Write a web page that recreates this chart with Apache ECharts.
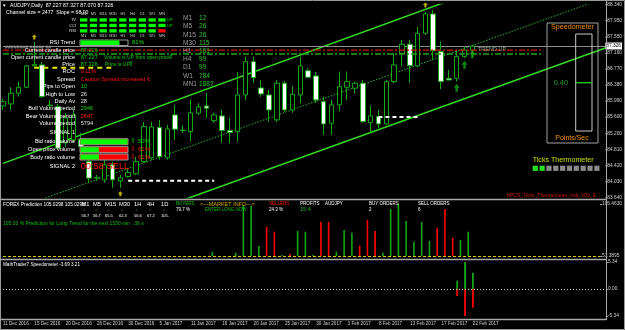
<!DOCTYPE html>
<html><head><meta charset="utf-8">
<script src="https://cdn.jsdelivr.net/npm/echarts@6/dist/echarts.min.js"></script>
<style>html,body{margin:0;padding:0;background:#000;}#c{width:625px;height:330px;}</style>
</head><body><div id="c"></div>
<script>
// ---------- DATA ----------
const dates = ['11 Dec 2016','12 Dec 2016','13 Dec 2016','14 Dec 2016','15 Dec 2016','16 Dec 2016','18 Dec 2016','19 Dec 2016','20 Dec 2016','21 Dec 2016',
'22 Dec 2016','23 Dec 2016','26 Dec 2016','27 Dec 2016','28 Dec 2016','29 Dec 2016','30 Dec 2016','2 Jan 2017','3 Jan 2017','4 Jan 2017',
'5 Jan 2017','6 Jan 2017','9 Jan 2017','10 Jan 2017','11 Jan 2017','12 Jan 2017','13 Jan 2017','15 Jan 2017','16 Jan 2017','17 Jan 2017',
'18 Jan 2017','19 Jan 2017','20 Jan 2017','22 Jan 2017','23 Jan 2017','24 Jan 2017','25 Jan 2017','26 Jan 2017','27 Jan 2017','29 Jan 2017',
'30 Jan 2017','31 Jan 2017','1 Feb 2017','2 Feb 2017','3 Feb 2017','5 Feb 2017','6 Feb 2017','7 Feb 2017','8 Feb 2017','9 Feb 2017',
'10 Feb 2017','12 Feb 2017','13 Feb 2017','14 Feb 2017','15 Feb 2017','16 Feb 2017','17 Feb 2017','19 Feb 2017','20 Feb 2017','21 Feb 2017',
'22 Feb 2017'];
const emptySlots = ['','','','','','','','','','','','','','','','',''];
const opens = [85.870,85.919,86.179,86.325,86.844,86.868,85.890,85.853,84.970,85.043,
85.060,84.515,84.125,84.070,84.435,84.046,84.150,84.216,84.515,84.605,
85.342,84.605,85.652,85.280,85.245,85.693,85.870,85.513,85.627,85.269,
85.245,86.138,86.948,86.308,86.138,85.530,86.423,85.773,86.138,86.729,
86.600,85.975,85.449,85.895,86.325,86.301,86.423,85.464,85.610,85.432,
86.462,87.153,87.372,86.844,87.639,88.109,87.192,86.540,86.544,87.070,87.227];
const closes = [85.975,86.179,86.325,86.844,86.880,86.097,85.878,84.841,85.578,85.652,
84.880,84.112,84.115,84.435,84.070,84.119,84.247,84.515,85.367,85.359,
84.637,85.311,85.303,85.269,85.700,85.846,85.814,85.652,85.269,85.221,
86.138,86.948,86.559,86.162,85.773,86.423,85.773,86.155,86.844,86.569,
86.016,85.432,85.895,86.340,86.462,86.423,85.488,85.627,85.432,86.462,
86.868,87.372,86.851,87.639,88.109,87.216,86.462,86.503,87.070,87.233,87.326];
const lows = [85.773,85.773,86.097,86.301,86.800,86.065,85.822,84.800,84.873,84.970,
84.678,83.997,84.046,83.997,83.875,83.875,84.119,84.191,84.484,84.556,
84.556,84.556,85.043,85.213,85.002,85.652,85.578,85.457,84.977,84.963,
85.002,86.016,86.430,86.089,85.481,85.481,85.724,85.700,85.936,86.551,
85.943,85.165,85.165,85.732,86.016,86.179,85.457,85.213,85.335,85.408,
86.423,86.827,86.430,86.819,87.598,86.990,86.277,86.490,86.462,87.040,87.070];
const highs = [86.041,86.325,86.462,86.868,87.430,86.941,86.016,85.919,85.700,85.773,
85.213,84.605,84.191,84.556,84.508,84.191,84.362,84.630,85.481,85.481,
85.530,85.408,85.895,85.408,86.016,85.936,86.185,85.700,85.773,85.578,
86.698,87.070,87.070,86.503,86.260,86.503,86.479,86.357,87.070,86.788,
86.698,86.097,86.016,86.705,86.705,86.462,86.503,85.870,85.773,86.503,
87.153,87.476,87.476,87.800,88.157,88.206,87.435,86.746,87.233,87.313,87.327];
const priceTicks = [83.640,84.030,84.420,84.810,85.200,85.600,85.990,86.380,86.770,87.160,87.550,87.950,88.340];
const bidPrice = 87.326;
const openLevel = 87.227;
const greenLevel = 87.135;
const channelX = [0, 77];
const channelUpper = [84.47, 89.82];
const channelMid = [83.26, 88.50];
const channelLower = [82.00, 87.28];
const yellowLevel = {from: 4, to: 14, price: 86.802};
const whiteLevel1 = {from: 16, to: 27, price: 84.046};
const whiteLevel2 = {from: 48, to: 53, price: 85.603};
const fractalX = [4, 15, 54];
const fractalY = [87.55, 83.73, 88.33];
const arrowX = [58, 59, 60];
const arrowY = [86.31, 86.87, 87.13];
// FOREX Prediction histogram (index 0..60), null = no bar
const predUp = [null,null,null,null,null,null,null,null,null,null,
null,null,null,null,null,null,null,null,null,null,
null,null,null,null,null,null,null,55.86,null,null,
54.82,104.42,103.70,61.79,null,null,52.4,null,77.39,76.66,
52.4,null,null,55.86,78.43,75.62,null,null,null,54.82,
100.26,105.46,87.79,66.26,86.75,67.30,null,null,null,68.03,76.66];
const predDown = [null,null,null,null,null,null,null,null,null,null,
null,null,null,null,null,null,null,null,null,null,
null,null,null,null,null,null,null,null,null,null,
null,null,null,null,81.86,76.66,null,53.5,null,null,
null,87.06,86.75,null,null,null,62.10,88.83,77.39,null,
null,null,null,null,null,null,80.82,100.26,70.42,null,null];
const predTicks = [51.3895, 105.4630];
// MathTrader7 Speedometer (last three bars)
const speedX = [58, 59, 60];
const speedUp = [1.64, 5.34, 3.21];
const speedDown = [-1.38, -5.34, -3.69];
const speedTicks = [-5.34, 0, 5.34];
// info panels
const mtfHeaders = ['M1','M5','M15','M30','H1','H4','D1','W1','MN'];
const mtfRows = ['TV','CCI','RSI'];
const mtfState = [[1,1,1,1,1,1,1,1,1],[1,1,1,1,1,1,1,1,1],[1,1,1,1,1,1,1,1,0]];
const rsiTrend = 81;
const tfLabels = ['M1','M5','M15','M30','H1','H4','D1','W1','MN1'];
const tfValues = ['12','26','26','115','161','99','99','784','1887'];
const panelLabels = ['Current candle price','Open current candle price','Price','ROC','Spread','Pips to Open','High to Low','Daily Av','Bull Volume period','Bear Volume period','Volume period','SIGNAL 1','Bid ratio volume','Open price volume','Body ratio volume','SIGNAL 2'];
const panelValues = ['87.229','87.227','87.326','0.11%','Caution Spread increased 6','10','26','28','2946','2847','5794','','','','',''];
const panelValueColors = ['#10d010','#10d010','#10d010','#ff1010','#ff1010','#10d010','#e0e0e0','#e0e0e0','#10d010','#ff1010','#e0e0e0','','','','',''];
const ratioBars = [100, 39, 39];
const ratioText = ['50%','61%','61%'];
const predTf = ['M1','M5','M15','M30','1H','4H','1D'];
const predTfVals = ['56.7','56.7','65.5','62.3','56.6','67.2','105.'];
const thermoCells = [1,1,0,0,0,0,0,0,0,0];

// ---------- CHART ----------
const categories = dates.concat(emptySlots);
const FONT = '"Liberation Sans", Arial, sans-serif';
const candleData = opens.map((o, i) => [o, closes[i], lows[i], highs[i]]);
function seg(x, y) { return [[x[0], y[0]], [x[1], y[1]]]; }
function T(x, y, text, fill, size, align, extra) {
  return Object.assign({type: 'text', x: x, y: y, z: 100, silent: true,
    style: {text: text, fill: fill, font: size + 'px ' + FONT, textAlign: align || 'left', align: align || 'left',
      textVerticalAlign: 'middle', verticalAlign: 'middle'}}, extra || {});
}
function R(x, y, w, h, fill, stroke, z) {
  return {type: 'rect', z: z || 99, silent: true, shape: {x: x, y: y, width: w, height: h},
    style: {fill: fill || 'none', stroke: stroke || 'none', lineWidth: 1}};
}
function L(x1, y1, x2, y2, stroke, w, dash) {
  return {type: 'line', z: 99, silent: true, shape: {x1: x1, y1: y1, x2: x2, y2: y2},
    style: {stroke: stroke, lineWidth: w || 1, lineDash: dash || null}};
}

const g = [];
// frame & separators
g.push(R(0.5, 0.5, 624, 329, 'none', '#9a9a9a'));
g.push(L(0, 199.5, 606, 199.5, '#a8a8a8', 1.5));
g.push(L(0, 259.5, 606, 259.5, '#a8a8a8', 1.5));
g.push(L(0, 319.5, 606, 319.5, '#a8a8a8', 1.5));
g.push(L(606.5, 0, 606.5, 320, '#a8a8a8', 1));
// header
g.push(T(2, 5.5, '▼', '#ffffff', 4.5));
g.push(T(10, 5.5, 'AUDJPY,Daily  87.227 87.327 87.070 87.326', '#ffffff', 5.2));
g.push(T(6, 12.5, 'Channel size = 2477  Slope = 68.00', '#ffffff', 5.2));
// MTF table
const cellX0 = 80, cellStep = 9.79, cellW = 7.3;
mtfHeaders.forEach((h, k) => {
  g.push(T(cellX0 + cellW / 2 + k * cellStep, 14, h, '#d0d0d0', 3.8, 'center'));
  g.push(T(cellX0 + cellW / 2 + k * cellStep, 36, h, '#d0d0d0', 3.8, 'center'));
});
const rowY = [18.3, 23.8, 29.2];
mtfRows.forEach((r, j) => {
  g.push(T(76, rowY[j] + 1.6, r, '#e0e0e0', 4, 'right'));
  mtfState[j].forEach((s, k) => g.push(R(cellX0 + k * cellStep, rowY[j], cellW, 3.3, s ? '#00ff00' : '#ff0000')));
  if (j < 2) g.push(T(167, rowY[j] + 1.6, 'UP', '#00e000', 4));
});
// RSI trend
g.push(T(75, 42.5, 'RSI Trend', '#ffffff', 5.6, 'right'));
g.push(R(80, 40, 48, 5.5, '#000', '#9a9a9a'));
g.push(R(80.5, 40.5, 48 * rsiTrend / 100, 4.5, '#00ff00'));
g.push(T(132, 42.8, rsiTrend + '%', '#10e010', 6));
// timeframe counts
tfLabels.forEach((l, k) => {
  const y = 18.3 + k * 8.2;
  g.push(T(183, y, l, '#9a9a9a', 6.6));
  g.push(T(199, y, tfValues[k], '#2cc02c', 6.6));
});
// left panel
const panelY = [50, 57.3, 64.3, 71.7, 79.3, 86.7, 94, 101.3, 108.7, 116, 123.3, 132.5, 141.7, 149.7, 157, 166.7];
g.push(T(5, 47.5, '######## ##### ##', '#9a9a9a', 5.2));
panelLabels.forEach((l, k) => {
  g.push(T(75, panelY[k], l, '#ffffff', 5.6, 'right'));
  if (panelValues[k]) g.push(T(80.7, panelY[k], panelValues[k], panelValueColors[k], 5.6));
});
g.push(T(104, 57.3, 'Volume is UP from open price', '#10d010', 5));
g.push(T(171, 57.3, '⇧', '#10e010', 6.5, 'center'));
g.push(T(105, 64.3, 'Price is UP', '#10d010', 5));
g.push(T(131, 64.3, '⇧', '#10e010', 6.5, 'center'));
ratioBars.forEach((v, k) => {
  const y = panelY[12 + k] - 3;
  g.push(R(80, y, 48, 6, '#ff0000', '#9a9a9a'));
  g.push(R(80.5, y + 0.5, 47 * v / 100, 5, '#00ff00'));
  const up = k === 0;
  g.push(T(133, panelY[12 + k], up ? '⇧' : '⇩', up ? '#10d010' : '#ff1010', 6.5, 'center'));
  g.push(T(138, panelY[12 + k], ratioText[k], up ? '#10d010' : '#ff1010', 6));
});
g.push(T(80.7, 166.7, '00:58 SELL', '#ff1010', 9.3));
g.push(T(478, 49, 'TREND UP', '#8aa88a', 5.5));
// speedometer
g.push(R(547, 23, 51, 120, 'none', '#a0a0a0'));
g.push(T(572.5, 27.5, 'Speedometer', '#f09000', 7.2, 'center'));
g.push(R(575.7, 34, 16.3, 97, 'none', '#c8c8c8'));
g.push(L(576, 82.7, 592, 82.7, '#20c020', 1.5));
g.push(T(553.7, 83, '0.40', '#20a020', 7.4));
g.push(T(572, 138, 'Points/Sec', '#f09000', 7, 'center'));
g.push(T(532.7, 160, 'Ticks Thermometer', '#c8e000', 7.1));
thermoCells.forEach((c, k) => g.push(R(532.7 + k * 6.84, 165.7, 5.2, 5.2, c ? '#20e020' : '#8a8a8a')));
g.push(T(596, 196, 'HPCS_Ticks_Thermometer_Indi_V03_E', '#d01010', 5, 'right'));
// FOREX prediction pane texts
g.push(T(3, 205, 'FOREX Prediction 105.0298 105.0298', '#ffffff', 4.8));
const ptX = [81.5, 93, 105, 119, 134, 147, 161];
predTf.forEach((l, k) => {
  g.push(T(ptX[k], 204.5, l, '#ffffff', 5.8));
  g.push(T(ptX[k] + 2, 210.7, '^', '#10c010', 4));
  g.push(T(ptX[k], 215.5, predTfVals[k], '#ffffff', 4));
});
g.push(T(176, 204, 'BUYERS', '#10c010', 4.5));
g.push(T(176, 209.5, '79.7 %', '#ffffff', 4.5));
g.push(T(200, 204, '<---MARKET INFO--->', '#d8a800', 5.5));
g.push(T(205, 209.5, 'ENTER LONG NOW', '#10c010', 4.5));
g.push(T(269, 204, 'SELLERS', '#ff1010', 4.5));
g.push(T(269, 209.5, '24.3 %', '#ffffff', 4.5));
g.push(T(300, 204, 'PROFITS', '#ffffff', 4.5));
g.push(T(300, 209.5, '15.4', '#10c010', 5.5));
g.push(T(325, 204, 'AUDJPY', '#ffffff', 4.5));
g.push(T(369, 204, 'BUY ORDERS', '#ffffff', 4.5));
g.push(T(369, 209.5, '2', '#ffffff', 4.5));
g.push(T(418, 204, 'SELL ORDERS', '#ffffff', 4.5));
g.push(T(418, 209.5, '6', '#ffffff', 4.5));
g.push(T(3, 223.3, '105.03 % Prediction for Long Trend for the next 1330 min : 36 s', '#10c010', 5));
g.push(T(3, 264.5, 'MathTrader7 Speedometer -3.69 3.21', '#ffffff', 4.6));

const xBase = {type: 'category', data: categories, boundaryGap: false,
  axisLine: {show: false}, axisTick: {show: false}, axisLabel: {show: false}, splitLine: {show: false}};
const yBase = {type: 'value', position: 'right', splitLine: {show: false}, axisLine: {show: false}};
const axisLabelStyle = {color: '#d0d0d0', fontSize: 4.8, fontFamily: FONT, margin: 2};

const option = {
  backgroundColor: '#000',
  animation: false,
  grid: [
    {left: 3, right: 19, top: 4.5, height: 193},
    {left: 3, right: 19, top: 204, height: 52},
    {left: 3, right: 19, top: 262, height: 54}
  ],
  xAxis: [
    Object.assign({}, xBase, {gridIndex: 0}),
    Object.assign({}, xBase, {gridIndex: 1}),
    Object.assign({}, xBase, {gridIndex: 2, axisLabel: {show: true, interval: 3, align: 'left', color: '#d0d0d0', fontSize: 4.6, fontFamily: FONT, margin: 5}})
  ],
  yAxis: [
    Object.assign({}, yBase, {gridIndex: 0, min: 83.64, max: 88.34,
      axisTick: {show: true, length: 2, customValues: priceTicks, lineStyle: {color: '#a0a0a0'}},
      axisLabel: Object.assign({customValues: priceTicks, formatter: v => v.toFixed(3)}, axisLabelStyle)}),
    Object.assign({}, yBase, {gridIndex: 1, min: predTicks[0], max: predTicks[1],
      axisTick: {show: true, length: 2, customValues: predTicks, lineStyle: {color: '#a0a0a0'}},
      axisLabel: Object.assign({customValues: predTicks, formatter: v => v.toFixed(4)}, axisLabelStyle)}),
    Object.assign({}, yBase, {gridIndex: 2, min: speedTicks[0], max: speedTicks[2],
      axisTick: {show: true, length: 2, customValues: speedTicks, lineStyle: {color: '#a0a0a0'}},
      axisLabel: Object.assign({customValues: speedTicks, formatter: v => v.toFixed(2)}, axisLabelStyle)})
  ],
  series: [
    {type: 'candlestick', xAxisIndex: 0, yAxisIndex: 0, data: candleData, barWidth: 5, z: 5,
      itemStyle: {color: '#000000', color0: '#ffffff', borderColor: '#14a814', borderColor0: '#14a814', borderWidth: 1},
      markLine: {silent: true, symbol: 'none', animation: false,
        lineStyle: {color: '#8c8c8c', type: 'solid', width: 1},
        label: {show: true, position: 'end', distance: 0, formatter: bidPrice.toFixed(3), backgroundColor: '#ffffff', color: '#000000', fontSize: 4.8, fontFamily: FONT, padding: [1, 1]},
        data: [{yAxis: bidPrice}]}},
    {type: 'line', xAxisIndex: 0, yAxisIndex: 0, data: seg(channelX, channelUpper), symbol: 'none', z: 4,
      lineStyle: {color: '#33dd22', width: 1.5}},
    {type: 'line', xAxisIndex: 0, yAxisIndex: 0, data: seg(channelX, channelMid), symbol: 'none', z: 4,
      lineStyle: {color: '#22b822', width: 1, type: [1.5, 1.5]}},
    {type: 'line', xAxisIndex: 0, yAxisIndex: 0, data: seg(channelX, channelLower), symbol: 'none', z: 4,
      lineStyle: {color: '#33dd22', width: 1.5}},
    {type: 'line', xAxisIndex: 0, yAxisIndex: 0, data: [[0, openLevel], [69, openLevel]], symbol: 'none', z: 6,
      lineStyle: {color: '#cc1010', width: 1.3, type: [6, 2, 2, 2]}},
    {type: 'line', xAxisIndex: 0, yAxisIndex: 0, data: [[0, greenLevel], [69, greenLevel]], symbol: 'none', z: 6,
      lineStyle: {color: '#20a020', width: 1.3, type: [6, 2, 2, 2]}},
    {type: 'line', xAxisIndex: 0, yAxisIndex: 0, data: [[yellowLevel.from, yellowLevel.price], [yellowLevel.to, yellowLevel.price]], symbol: 'none', z: 6,
      lineStyle: {color: '#e8e800', width: 2, type: [5, 4]}},
    {type: 'line', xAxisIndex: 0, yAxisIndex: 0, data: [[whiteLevel1.from, whiteLevel1.price], [whiteLevel1.to, whiteLevel1.price]], symbol: 'none', z: 6,
      lineStyle: {color: '#ffffff', width: 2, type: [4, 3]}},
    {type: 'line', xAxisIndex: 0, yAxisIndex: 0, data: [[whiteLevel2.from, whiteLevel2.price], [whiteLevel2.to, whiteLevel2.price]], symbol: 'none', z: 6,
      lineStyle: {color: '#ffffff', width: 2, type: [4, 3]}},
    {type: 'scatter', xAxisIndex: 0, yAxisIndex: 0, data: fractalX.map((x, k) => [x, fractalY[k]]), z: 7,
      symbol: 'path://M5,0 L10,5 L7,5 L7,10 L3,10 L3,5 L0,5 Z', symbolSize: [5, 5], itemStyle: {color: '#f0e000'}},
    {type: 'scatter', xAxisIndex: 0, yAxisIndex: 0, data: arrowX.map((x, k) => [x, arrowY[k]]), z: 7,
      symbol: 'path://M5,0 L10,5 L7,5 L7,10 L3,10 L3,5 L0,5 Z', symbolSize: [6, 8], itemStyle: {color: '#14a814'}},
    {type: 'bar', xAxisIndex: 1, yAxisIndex: 1, data: predUp, barWidth: 1.6, barGap: '-100%', itemStyle: {color: '#12a812'},
      markLine: {silent: true, symbol: 'none', label: {show: false}, lineStyle: {color: '#d8c800', type: [3, 2], width: 1.2},
        data: [{yAxis: predTicks[0]}]}},
    {type: 'bar', xAxisIndex: 1, yAxisIndex: 1, data: predDown, barWidth: 1.6, barGap: '-100%', itemStyle: {color: '#ff0000'}},
    {type: 'bar', xAxisIndex: 2, yAxisIndex: 2, data: speedX.map((x, k) => [x, speedUp[k]]), barWidth: 1.8, barGap: '-100%', itemStyle: {color: '#12a812'},
      markLine: {silent: true, symbol: 'none', label: {show: false}, lineStyle: {color: '#d0d0d0', type: [1, 2], width: 1},
        data: [{yAxis: 0}]}},
    {type: 'bar', xAxisIndex: 2, yAxisIndex: 2, data: speedX.map((x, k) => [x, speedDown[k]]), barWidth: 1.8, barGap: '-100%', itemStyle: {color: '#ff0000'}}
  ],
  graphic: g
};
const chart = echarts.init(document.getElementById('c'), null, {renderer: 'canvas'});
chart.setOption(option);
</script>
</body></html>
